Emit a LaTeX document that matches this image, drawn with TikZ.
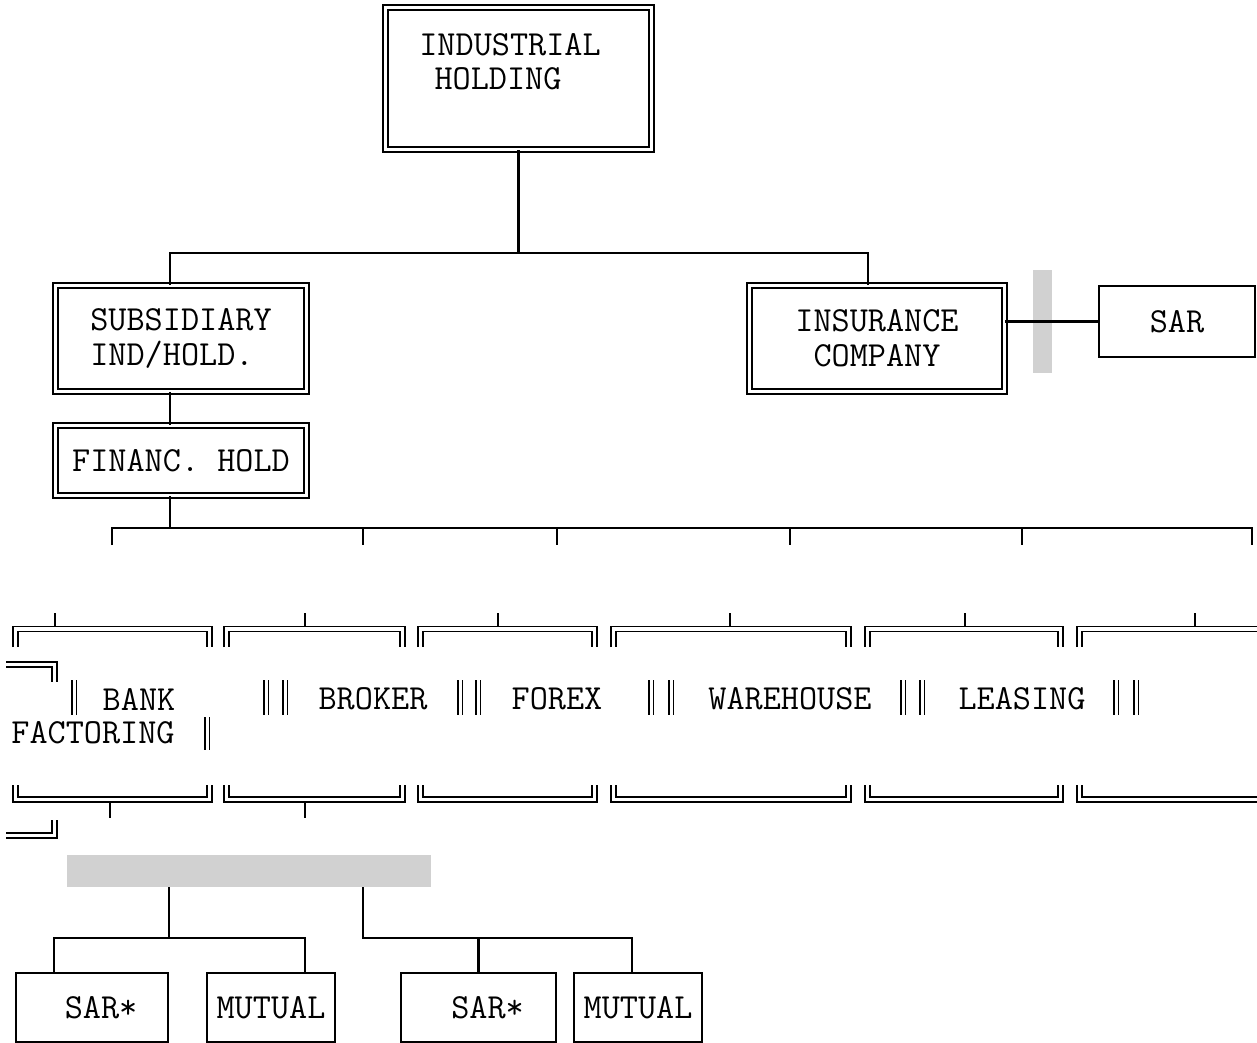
\documentclass[tikz,border=0pt]{standalone}
\usepackage{fontspec}
\usepackage{tikz}
\usetikzlibrary{shapes,arrows}
\tikzstyle{dbox} = [rectangle, draw, double, double distance=1.6pt, 
line width=0.8pt, font=\ttfamily\fontsize{17.6}{17.5}\selectfont, inner sep=0pt]
\tikzstyle{sbox} = [rectangle, draw, line width=1pt, 
font=\ttfamily\fontsize{17.6}{17.5}\selectfont, inner sep=0pt]
\tikzstyle{txt} = [font=\ttfamily\fontsize{17.6}{17}\selectfont, inner sep=0pt]
\tikzstyle{greyfill} = [fill=black!18, inner sep=0pt]
\tikzstyle{line} = [draw, line width=1.05pt]
\tikzstyle{dline} = [draw, double, double distance=1.6pt, line width=0.8pt]
\tikzstyle{bars} = [draw, double, double distance=1.5pt, line width=0.7pt]

\begin{document}
\begin{tikzpicture}[x=0.5pt, y=-0.5pt]
    \useasboundingbox (0,0) rectangle (1257,1043);
    % Place nodes
    \node [dbox, minimum width=133pt, minimum height=71pt] (ind) at (518.5,78.5) {};
    \node [txt, align=left] (indtext) at (510,62) {INDUSTRIAL\\\hspace*{0.43em}HOLDING};
    \node [dbox, minimum width=125.5pt, minimum height=53pt, align=left] (sub) 
    at (181,338.5) {SUBSIDIARY\\IND/HOLD.};
    \node [dbox, minimum width=127.5pt, minimum height=53pt, align=center, 
    right of=sub, node distance=348pt] (ins) {INSURANCE\\COMPANY};
    \node [greyfill, minimum width=9.5pt, minimum height=51.5pt] (bar) at (1042.5,321.5) {};
    \node [sbox, minimum width=78pt, minimum height=35.5pt] (sar) at (1177,321.5) {SAR};
    \node [dbox, minimum width=125.5pt, minimum height=35pt, below of=sub, 
    node distance=61pt] (fin) {FINANC.~HOLD};

    % Middle row
    \node [txt] (bank) at (139,699) {BANK};
    \node [txt] (broker) at (373,699) {BROKER};
    \node [txt] (forex) at (557,699) {FOREX};
    \node [txt] (wareh) at (790,699) {WAREHOUSE};
    \node [txt] (leasing) at (1022,699) {LEASING};
    \node [txt] (factor) at (93,733) {FACTORING};
    \foreach \xl/\xr/\t in {13/212/55, 224/405/305, 418/597/498, 611/851/730, 
    865/1063/965, 1077/1290/1195} {
        \path [dline] (\xl+2.5,647) -- (\xl+2.5,629) -- (\xr-2.5,629) -- (\xr-2.5,647);
        \path [dline] (\xl+2.5,785) -- (\xl+2.5,799.5) -- (\xr-2.5,799.5) -- (\xr-2.5,785);
        \path [line] (\t,613) -- (\t,627);
    }
    \path [line] (110,801) -- (110,818);
    \path [line] (305,801) -- (305,818);
    \path [dline] (6,664.5) -- (54.5,664.5) -- (54.5,682);
    \path [dline] (6,835.5) -- (54.5,835.5) -- (54.5,820);
    \foreach \x in {74,266,285,460,478,651,671,903,922,1116,1136}
        \path [bars] (\x,680) -- (\x,715);
    \path [bars] (207,717) -- (207,750);

    % Lower nodes
    \node [greyfill, minimum width=182pt, minimum height=16pt] (grey) at (249,871) {};
    \node [sbox, minimum width=76pt, minimum height=34.5pt] (sar1) at (92,1007.5) {~SAR*};
    \node [sbox, minimum width=64pt, minimum height=34.5pt, right of=sar1, 
    node distance=89.5pt] (mut1) {MUTUAL};
    \node [sbox, minimum width=77.5pt, minimum height=34.5pt, right of=mut1, 
    node distance=103.75pt] (sar2) {~SAR*};
    \node [sbox, minimum width=64pt, minimum height=34.5pt, right of=sar2, 
    node distance=79.75pt] (mut2) {MUTUAL};

    % Draw edges
    \coordinate (jtop) at (518,253);
    \coordinate (jrow) at (170,528);
    \coordinate (jleft) at (169,938);
    \coordinate (jright) at (363,938);
    \path [line] (ind.south) -- (ind.south |- jtop);
    \path [line] (sub.north -| 170,0) |- (jtop) -| (ins.north -| 868,0);
    \path [line] (ins.east |- sar.west) -- (sar.west);
    \path [line] (sub.south -| 170,0) -- (fin.north -| 170,0);
    \path [line] (fin.south -| jrow) -- (jrow);
    \path [line] (112,545) |- (jrow) -| (1252,545);
    \foreach \x in {363,557,790,1022}
        \path [line] (\x,528) -- (\x,545);
    \path [line] (grey.south -| jleft) -- (jleft);
    \path [line] (sar1.north -| 54,0) |- (jleft) -| (mut1.north -| 305,0);
    \path [line] (grey.south -| jright) |- (632,938) -- (mut2.north -| 632,0);
    \path [line] (sar2.north) -- (sar2.north |- jright);
\end{tikzpicture}
\end{document}
